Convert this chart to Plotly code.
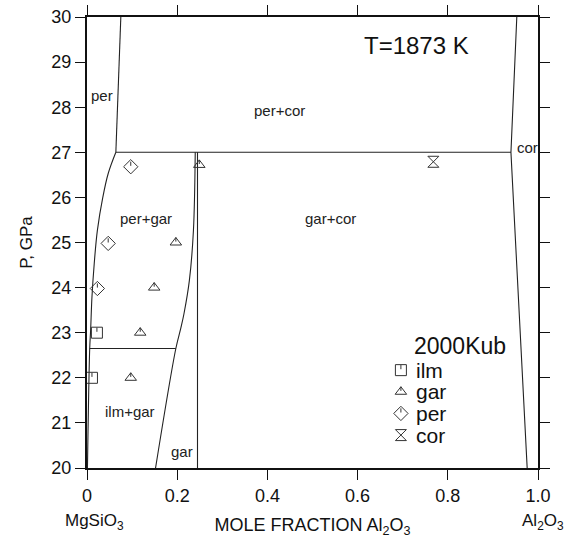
import plotly.graph_objects as go

# ---- data ----
# phase boundaries (x = mole fraction Al2O3, P in GPa)
per_bnd_x = [0.075, 0.064]
per_bnd_p = [30, 27]
h27_x = [0.064, 0.94]
h27_p = [27, 27]
cor_bnd_x = [0.953, 0.94, 0.976]
cor_bnd_p = [30, 27, 20]
pergar_left_x = [0.064, 0.047, 0.035, 0.023, 0.016, 0.011, 0.008, 0.006, 0.001]
pergar_left_p = [27, 26.53, 26.0, 25.27, 24.53, 23.79, 23.05, 22.65, 20]
ilm_h_x = [0.006, 0.197]
ilm_h_p = [22.65, 22.65]
gar_curve_x = [0.240, 0.236, 0.227, 0.215, 0.208, 0.197, 0.152]
gar_curve_p = [27, 25.27, 24.16, 23.42, 23.1, 22.65, 20]
gar_vert_x = [0.245, 0.245]
gar_vert_p = [27, 20]

# experimental points (2000Kub)
ilm_x = [0.022, 0.011]
ilm_p = [23.0, 22.0]
gar_x = [0.118, 0.097, 0.149, 0.197, 0.249]
gar_p = [23.0, 22.0, 24.0, 25.0, 26.72]
per_x = [0.097, 0.047, 0.023]
per_p = [26.68, 24.98, 23.98]
cor_x = [0.768]
cor_p = [26.79]

series_names = ["ilm", "gar", "per", "cor"]
legend_title = "2000Kub"

region_labels = ["per", "per+cor", "cor", "per+gar", "gar+cor", "ilm+gar", "gar"]
region_x = [0.034, 0.426, 0.977, 0.131, 0.540, 0.095, 0.210]
region_p = [28.25, 27.92, 27.1, 25.53, 25.53, 21.25, 20.37]

x_ticks = [0, 0.2, 0.4, 0.6, 0.8, 1.0]
x_ticktext = ["0", "0.2", "0.4", "0.6", "0.8", "1.0"]
y_ticks = list(range(20, 31))

# ---- style ----
FONT = "Liberation Sans, Arial, sans-serif"
LINE = dict(color="#222", width=1.1)
MCOL = "#333"
SYMBOLS = ["square-open", "triangle-up-open", "diamond-open", "hourglass-open"]
SIZES = [11, 10, 11, 11]
HAS_TICK = [True, True, True, False]
# legend layout (fractions of the plot area)
LEG_MARK_X = 0.696
LEG_TEXT_X = 0.725
LEG_TOP_Y = 0.217
LEG_STEP = 0.048
LEG_TITLE_Y = 0.27

fig = go.Figure()
for xs, ps, shape in [(per_bnd_x, per_bnd_p, "linear"), (h27_x, h27_p, "linear"),
                      (cor_bnd_x, cor_bnd_p, "linear"),
                      (pergar_left_x, pergar_left_p, "spline"), (ilm_h_x, ilm_h_p, "linear"),
                      (gar_curve_x, gar_curve_p, "spline"), (gar_vert_x, gar_vert_p, "linear")]:
    fig.add_trace(go.Scatter(x=xs, y=ps, mode="lines", line=dict(LINE, shape=shape),
                             showlegend=False, hoverinfo="skip"))

# small inner tick of the symbols: pixel offset converted to GPa (451 px per 10 GPa)
tick_off = 3.0 * 10 / 451
series = [(ilm_x, ilm_p), (gar_x, gar_p), (per_x, per_p), (cor_x, cor_p)]
for (xs, ps), name, sym, sz, tk in zip(series, series_names, SYMBOLS, SIZES, HAS_TICK):
    fig.add_trace(go.Scatter(x=xs, y=ps, mode="markers", name=name, showlegend=False,
                             marker=dict(symbol=sym, size=sz, color=MCOL,
                                         line=dict(color=MCOL, width=1))))
    if tk:
        fig.add_trace(go.Scatter(x=xs, y=[p + tick_off for p in ps], mode="markers",
                                 marker=dict(symbol="line-ns-open", size=3, color=MCOL,
                                             line=dict(color=MCOL, width=1)),
                                 showlegend=False, hoverinfo="skip"))

# hand-drawn legend on an overlay axis spanning the plot area (0..1)
leg_y = [LEG_TOP_Y - i * LEG_STEP for i in range(len(series_names))]
tick_off2 = 3.0 / 451
for i, (sym, sz, tk) in enumerate(zip(SYMBOLS, SIZES, HAS_TICK)):
    fig.add_trace(go.Scatter(x=[LEG_MARK_X], y=[leg_y[i]], xaxis="x2", yaxis="y2",
                             mode="markers", showlegend=False, hoverinfo="skip",
                             marker=dict(symbol=sym, size=sz, color=MCOL,
                                         line=dict(color=MCOL, width=1))))
    if tk:
        fig.add_trace(go.Scatter(x=[LEG_MARK_X], y=[leg_y[i] + tick_off2], xaxis="x2", yaxis="y2",
                                 mode="markers", showlegend=False, hoverinfo="skip",
                                 marker=dict(symbol="line-ns-open", size=3, color=MCOL,
                                             line=dict(color=MCOL, width=1))))
    fig.add_annotation(x=LEG_TEXT_X, y=leg_y[i], xref="x domain", yref="y domain",
                       text=series_names[i], showarrow=False, xanchor="left", yanchor="middle",
                       font=dict(family=FONT, size=21, color="#111"))
fig.add_annotation(x=0.72, y=LEG_TITLE_Y, xref="x domain", yref="y domain", text=legend_title,
                   showarrow=False, xanchor="left", yanchor="middle",
                   font=dict(family=FONT, size=23, color="#111"))

for t, x, p in zip(region_labels, region_x, region_p):
    fig.add_annotation(x=x, y=p, text=t, showarrow=False,
                       font=dict(family=FONT, size=15, color="#222"))

fig.add_annotation(x=0.73, y=29.37, text="T=1873 K", showarrow=False,
                   font=dict(family=FONT, size=24, color="#111"))
fig.add_annotation(x=0.017, y=-0.12, xref="x domain", yref="y domain",
                   text="MgSiO<sub>3</sub>", showarrow=False, xanchor="center",
                   font=dict(family=FONT, size=17, color="#111"), yanchor="middle")
fig.add_annotation(x=1.01, y=-0.12, xref="x domain", yref="y domain",
                   text="Al<sub>2</sub>O<sub>3</sub>", showarrow=False, xanchor="center",
                   font=dict(family=FONT, size=17, color="#111"), yanchor="middle")

fig.update_layout(
    width=569, height=538,
    margin=dict(l=87, r=31, t=17, b=70),
    plot_bgcolor="white", paper_bgcolor="white",
    font=dict(family=FONT, color="#111"),
    showlegend=False,
    xaxis=dict(range=[0, 1], tickvals=x_ticks, ticktext=x_ticktext, automargin=False,
               showgrid=False, zeroline=False, showline=True, linewidth=2,
               linecolor="#111", mirror="ticks", ticks="outside", ticklen=10,
               tickwidth=1, tickcolor="#111", tickfont=dict(size=18),
               title=dict(text="MOLE FRACTION Al<sub>2</sub>O<sub>3</sub>",
                          font=dict(size=18), standoff=16)),
    yaxis=dict(range=[20, 30], tickvals=y_ticks, automargin=False,
               showgrid=False, zeroline=False, showline=True, linewidth=2,
               linecolor="#111", mirror="ticks", ticks="outside", ticklen=10,
               tickwidth=1, tickcolor="#111", tickfont=dict(size=18),
               title=dict(text="P, GPa", font=dict(size=17), standoff=14)),
    xaxis2=dict(range=[0, 1], overlaying="x", visible=False, fixedrange=True),
    yaxis2=dict(range=[0, 1], overlaying="y", visible=False, fixedrange=True),
)

fig.write_html("out.html", config={"displayModeBar": False})

# remove the default page margin so the figure sits at the window's top-left
with open("out.html", encoding="utf-8") as f:
    html = f.read()
html = html.replace("<head>", "<head><style>html,body{margin:0;padding:0;overflow:hidden}</style>", 1)
with open("out.html", "w", encoding="utf-8") as f:
    f.write(html)
